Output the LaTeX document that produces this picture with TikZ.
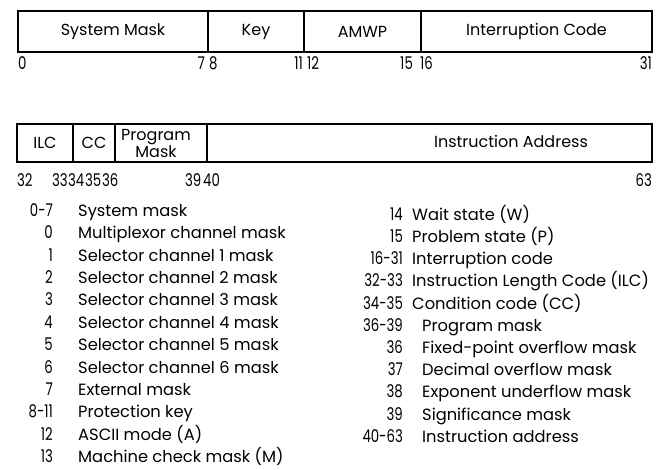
\documentclass[tikz,border=0pt]{standalone}
\usepackage{fontspec}
\setmainfont{Poppins}
\begin{document}
\begin{tikzpicture}[x=1pt,y=-1pt,
  field/.style={draw, line width=1.7pt, inner sep=0pt, font=\fontsize{16}{18}\selectfont},
  txt/.style={inner sep=0pt, font=\fontsize{16.3}{18}\selectfont, text height=11.5pt, text depth=3pt},
  num/.style={inner sep=0pt, font=\fontsize{17.5}{19}\selectfont, text height=12.5pt, text depth=0pt, xscale=0.76, transform shape},
]
\useasboundingbox (0,0) rectangle (660,469);
% ---- first half of the PSW
\node[field, minimum width=190pt, minimum height=41pt] (sm) at (113,31.5) {System Mask};
\node[field, minimum width=96pt, minimum height=41pt] (key) at (256,31.5) {Key};
\node[field, minimum width=117pt, minimum height=41pt] (amwp) at (362.5,31.5) {AMWP};
\node[field, minimum width=231pt, minimum height=41pt] (ic) at (536.5,31.5) {Interruption Code};
% bit numbers
\node[num, anchor=west] (b0) at (18,63.5) {0};
\node[num, anchor=east] (b7) at (205,63.5) {7};
\node[num, anchor=west] (b8) at (209,63.5) {8};
\node[num, anchor=east] (b11) at (303,63.5) {11};
\node[num, anchor=west] (b12) at (307,63.5) {12};
\node[num, anchor=east] (b15) at (413,63.5) {15};
\node[num, anchor=west] (b16) at (420,63.5) {16};
\node[num, anchor=east] (b31) at (652,63.5) {31};
% ---- second half
\node[field, minimum width=56pt, minimum height=38pt] (ilc) at (45,143) {ILC};
\node[field, minimum width=42pt, minimum height=38pt] (cc) at (94,143) {CC};
\node[field, minimum width=92pt, minimum height=38pt] (pm) at (161,143) {};
\node[field, minimum width=445pt, minimum height=38pt] (ia) at (429.5,143) {};
\node[inner sep=0pt, align=center, font=\fontsize{16}{17}\selectfont] (pmt) at (156,143.5) {Program\\Mask};
\node[txt, font=\fontsize{16}{18}\selectfont] (iat) at (511,143) {Instruction Address};
\node[num, anchor=west] (c32) at (17,180.5) {32};
\node[num, anchor=west] (c33) at (52,180.5) {33};
\node[num, anchor=west] (c34) at (68,180.5) {34};
\node[num, anchor=west] (c35) at (85,180.5) {35};
\node[num, anchor=west] (c36) at (102,180.5) {36};
\node[num, anchor=west] (c39) at (185,180.5) {39};
\node[num, anchor=west] (c40) at (203,180.5) {40};
\node[num, anchor=east] (c63) at (652,180.5) {63};
% ---- legend, left column
\foreach \n/\t [count=\i from 0] in {0-7/System mask, 0/Multiplexor channel mask, 1/Selector channel 1 mask, 2/Selector channel 2 mask, 3/Selector channel 3 mask, 4/Selector channel 4 mask, 5/Selector channel 5 mask, 6/Selector channel 6 mask, 7/External mask, 8-11/Protection key, 12/ASCII mode (A), 13/Machine check mask (M)}{
  \node[num, anchor=east] (ln\i) at (53,210+22.4*\i) {\n};
  \node[txt, anchor=west] (lt\i) at (78,212+22.4*\i) {\t};
}
% ---- legend, right column
\foreach \n/\t/\x [count=\i from 0] in {14/Wait state (W)/412, 15/Problem state (P)/412, 16-31/Interruption code/412, 32-33/Instruction Length Code (ILC)/412, 34-35/Condition code (CC)/412, 36-39/Program mask/422, 36/Fixed-point overflow mask/422, 37/Decimal overflow mask/422, 38/Exponent underflow mask/422, 39/Significance mask/422, 40-63/Instruction address/422}{
  \node[num, anchor=east] (rn\i) at (403,214+22.2*\i) {\n};
  \node[txt, anchor=west] (rt\i) at (\x,216+22.2*\i) {\t};
}
\end{tikzpicture}
\end{document}
